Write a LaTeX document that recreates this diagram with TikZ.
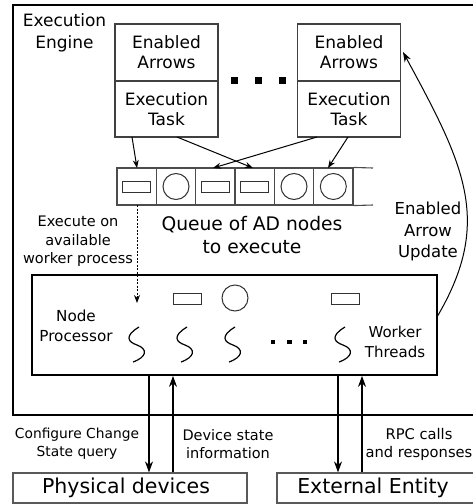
\documentclass[tikz,border=0pt]{standalone}
\usepackage{fontspec}
\setmainfont{DejaVu Sans}
\usetikzlibrary{arrows.meta}
\begin{document}
\begin{tikzpicture}[x=1pt,y=-1pt,
  outer/.style={draw=black, line width=1.8pt},
  taskbox/.style={draw=black!75, line width=1.2pt, minimum width=103pt, inner sep=0pt, align=center, font=\fontsize{17pt}{20pt}\selectfont},
  cell/.style={draw=black!70, line width=1.1pt, minimum width=39.33pt, minimum height=37pt, inner sep=0pt},
  item/.style={draw=black!80, line width=1pt, minimum width=28pt, minimum height=11pt, inner sep=0pt},
  ring/.style={draw=black!80, line width=1pt, circle, minimum size=26pt, inner sep=0pt},
  sq/.style={fill=black, minimum size=7pt, inner sep=0pt},
  smallsq/.style={fill=black, minimum size=4.5pt, inner sep=0pt},
  bottombox/.style={draw=black!65, line width=1.2pt, minimum height=30pt, inner sep=0pt, font=\fontsize{20.5pt}{24pt}\selectfont},
  lbl/.style={align=center, inner sep=0pt},
  arr/.style={line width=1pt, -{Stealth[length=8pt,width=6pt]}},
  bigarr/.style={line width=1.1pt, -{Stealth[length=11pt,width=8pt]}},
  thread/.pic={\draw[line width=1.2pt] (2,-17) .. controls (-13,-8) and (-9,-2) .. (0,1) .. controls (11,5) and (10,13) .. (-4,18);}
]
\useasboundingbox (0,0) rectangle (473,504);
% outer engine box
\draw[outer] (13,5) rectangle (478,415);
\node[lbl, font=\fontsize{17pt}{22pt}\selectfont] (eng) at (64.5,33) {Execution\\Engine};
% task boxes
\node[taskbox, minimum height=57pt] (ea1) at (166.5,52.5) {Enabled\\Arrows};
\node[taskbox, minimum height=56pt] (et1) at (166.5,109) {Execution\\Task};
\node[taskbox, minimum height=57pt] (ea2) at (349,52.5) {Enabled\\Arrows};
\node[taskbox, minimum height=56pt] (et2) at (349,109) {Execution\\Task};
\node[sq] (d1) at (234,80) {};
\node[sq] (d2) at (258,80) {};
\node[sq] (d3) at (282,80) {};
% queue
\node[cell] (q1) at (136.67,186.5) {};
\node[cell] (q2) at (176,186.5) {};
\node[cell] (q3) at (215.33,186.5) {};
\node[cell] (q4) at (254.67,186.5) {};
\node[cell] (q5) at (294,186.5) {};
\node[cell] (q6) at (333.33,186.5) {};
\coordinate (qt) at (373,168);
\coordinate (qb) at (373,205);
\draw[draw=black!70, line width=1.1pt] (q6.north east) -- (qt);
\draw[draw=black!70, line width=1.1pt] (q6.south east) -- (qb);
\node[item] (i1) at (q1) {};
\node[ring] (i2) at (q2) {};
\node[item] (i3) at (q3) {};
\node[item] (i4) at (q4) {};
\node[ring] (i5) at (q5) {};
\node[ring] (i6) at (q6) {};
\node[lbl, font=\fontsize{18.7pt}{23pt}\selectfont] (qlabel) at (252,235.5) {Queue of AD nodes\\to execute};
% task -> queue arrows
\coordinate (a1s) at (132,137); \coordinate (a1e) at (137,168);
\coordinate (a2s) at (177,137); \coordinate (a2e) at (253,168);
\coordinate (a3s) at (317,137); \coordinate (a3e) at (213,168);
\coordinate (a4s) at (348,137); \coordinate (a4e) at (328,168);
\draw[arr] (a1s) -- (a1e);
\draw[arr] (a2s) -- (a2e);
\draw[arr] (a3s) -- (a3e);
\draw[arr] (a4s) -- (a4e);
% dispatch
\node[lbl, font=\fontsize{14.5pt}{18.5pt}\selectfont] (exec) at (78,241.5) {Execute on\\available\\worker process};
\coordinate (dispS) at (137,205);
\coordinate (dispE) at (137,303);
\draw[line width=1pt, dash pattern=on 2pt off 1.5pt, -{Stealth[length=8pt,width=6pt]}] (dispS) -- (dispE);
% node processor
\node[draw=black, line width=1.8pt, minimum width=405pt, minimum height=100pt, inner sep=0pt] (np) at (234.5,325) {};
\node[lbl, font=\fontsize{15.2pt}{20pt}\selectfont] (nplabel) at (76,326) {Node\\Processor};
\node[lbl, font=\fontsize{15pt}{20pt}\selectfont] (wt) at (395,342) {Worker\\Threads};
\node[item] (p1) at (187.5,298.5) {};
\node[ring] (p2) at (235,298) {};
\node[item] (p3) at (345,298.5) {};
\pic at (137,344) {thread};
\pic at (185,344) {thread};
\pic at (233,344) {thread};
\pic at (343,344) {thread};
\node[smallsq] (t1) at (273,342) {};
\node[smallsq] (t2) at (289.5,342) {};
\node[smallsq] (t3) at (305,342) {};
% update curve
\coordinate (upS) at (437,317);
\coordinate (upE) at (403,52);
\draw[line width=1pt, -{Stealth[length=10pt,width=7pt]}] (upS) .. controls (493,222) and (465,166) .. (upE);
\node[lbl, font=\fontsize{16.5pt}{21.5pt}\selectfont] (upd) at (428,231.5) {Enabled\\Arrow\\Update};
% bottom boxes
\node[bottombox, minimum width=234pt] (phys) at (130,488) {\hspace*{-8pt}Physical devices};
\node[bottombox, minimum width=200pt] (ext) at (377,488) {\hspace*{-8pt}External Entity};
\draw[bigarr] (np.south -| 149,0) -- (phys.north -| 149,0);
\draw[bigarr] (phys.north -| 173,0) -- (np.south -| 173,0);
\draw[bigarr] (np.south -| 338,0) -- (ext.north -| 338,0);
\draw[bigarr] (ext.north -| 362,0) -- (np.south -| 362,0);
\node[lbl, font=\fontsize{13.8pt}{18pt}\selectfont] (conf) at (77,444) {Configure Change\\State query};
\node[lbl, font=\fontsize{14.5pt}{18pt}\selectfont] (dev) at (228,444) {Device state\\information};
\node[lbl, font=\fontsize{14.7pt}{18pt}\selectfont] (rpc) at (419,444) {RPC calls\\and responses};
\end{tikzpicture}
\end{document}
